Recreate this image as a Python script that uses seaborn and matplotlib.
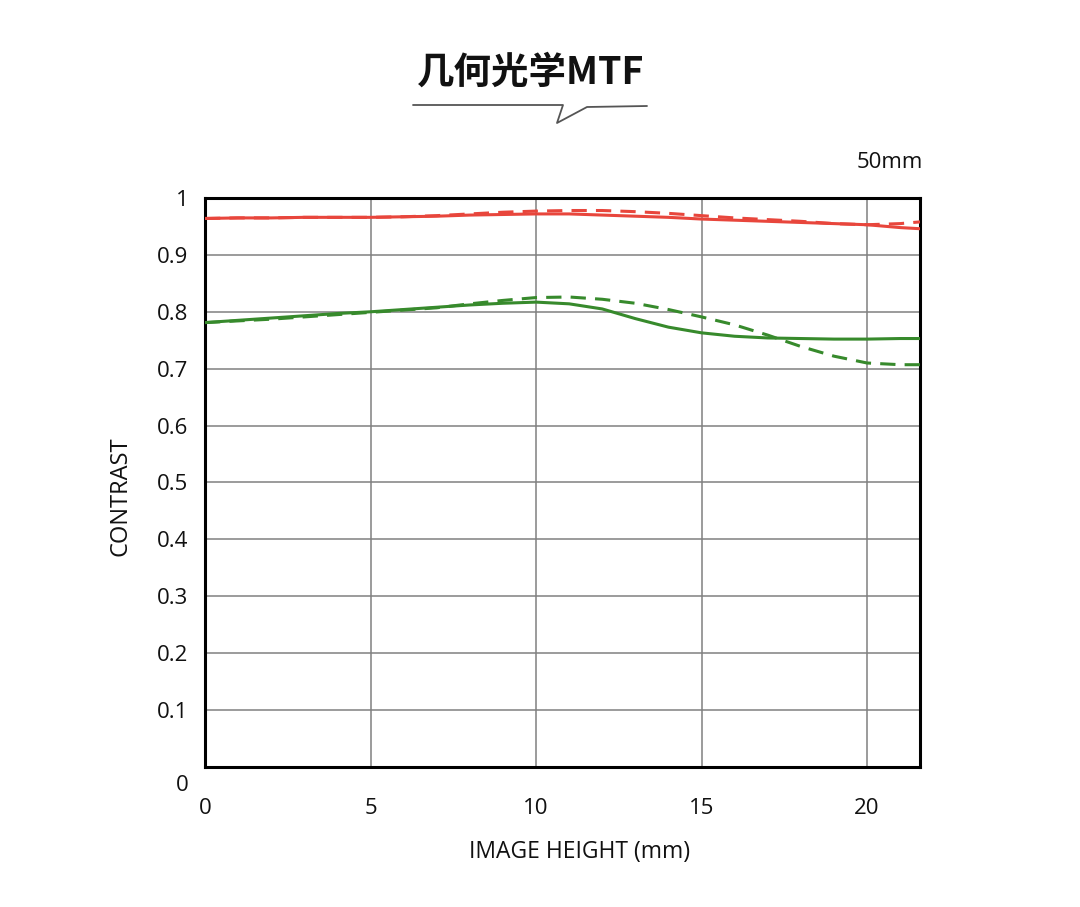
import matplotlib
matplotlib.use("Agg")
import matplotlib.pyplot as plt
from matplotlib.lines import Line2D
from matplotlib.transforms import ScaledTranslation
import pandas as pd
import seaborn as sns

heights = [0, 1, 2, 3, 4, 5, 6, 7, 8, 9, 10, 11, 12, 13, 14, 15, 16, 17, 18, 19, 20, 21, 21.6]

red_solid = [0.964, 0.965, 0.965, 0.966, 0.966, 0.966, 0.967, 0.968, 0.970, 0.971, 0.972, 0.972, 0.970,
             0.968, 0.966, 0.963, 0.961, 0.959, 0.957, 0.955, 0.953, 0.948, 0.946]
red_dashed = [0.964, 0.965, 0.965, 0.966, 0.966, 0.966, 0.967, 0.969, 0.972, 0.975, 0.977, 0.978, 0.978,
              0.976, 0.973, 0.969, 0.965, 0.962, 0.959, 0.955, 0.953, 0.955, 0.958]
green_solid = [0.781, 0.785, 0.789, 0.793, 0.797, 0.800, 0.804, 0.808, 0.812, 0.815, 0.817, 0.814, 0.805,
               0.788, 0.773, 0.763, 0.757, 0.754, 0.753, 0.752, 0.752, 0.753, 0.753]
green_dashed = [0.781, 0.784, 0.787, 0.791, 0.795, 0.799, 0.803, 0.807, 0.814, 0.820, 0.825, 0.826, 0.822,
                0.815, 0.804, 0.791, 0.777, 0.759, 0.739, 0.722, 0.710, 0.707, 0.707]

y_ticks = [0, 0.1, 0.2, 0.3, 0.4, 0.5, 0.6, 0.7, 0.8, 0.9, 1]
y_tick_labels = ["0", "0.1", "0.2", "0.3", "0.4", "0.5", "0.6", "0.7", "0.8", "0.9", "1"]
x_ticks = [0, 5, 10, 15, 20]

series = {
    "red_solid": red_solid,
    "red_dashed": red_dashed,
    "green_solid": green_solid,
    "green_dashed": green_dashed,
}
rows = []
for name, vals in series.items():
    for h, v in zip(heights, vals):
        rows.append({"height": h, "contrast": v, "series": name})
df = pd.DataFrame(rows)

sns.set_theme(style="white")
plt.rcParams["font.family"] = ["Open Sans", "Noto Sans CJK SC", "DejaVu Sans"]

fig = plt.figure(figsize=(10.8, 9.07), dpi=100)
ax = fig.add_axes([0.1898, 0.1544, 0.6621, 0.6273])

palette = {"red_solid": "#e8463c", "red_dashed": "#e8463c",
           "green_solid": "#378a2c", "green_dashed": "#378a2c"}
dashes = {"red_solid": "", "red_dashed": (5, 3),
          "green_solid": "", "green_dashed": (5, 3)}
sns.lineplot(data=df, x="height", y="contrast", hue="series", style="series",
             palette=palette, dashes=dashes, linewidth=2.2, legend=False, ax=ax,
             zorder=3)

ax.set_xlim(0, 21.6)
ax.set_ylim(0, 1)
ax.set_xticks(x_ticks)
ax.set_yticks(y_ticks)
ax.set_yticklabels(y_tick_labels)
ax.grid(True, color="#808080", linewidth=1.1)
for sp in ax.spines.values():
    sp.set_color("black")
    sp.set_linewidth(2.2)
ax.tick_params(axis="both", length=0, labelsize=16, colors="#111111")
ax.tick_params(axis="y", pad=12)
ax.tick_params(axis="x", pad=22)
ax.set_xlabel("")
ax.set_ylabel("")

# the "0" on the y axis sits lower than the axis line
zero_lab = ax.get_yticklabels()[0]
zero_lab.set_transform(zero_lab.get_transform() + ScaledTranslation(0, -16 / 100, fig.dpi_scale_trans))

fig.text(121 / 1080, 1 - 496 / 907, "CONTRAST", rotation=90, ha="center", va="center",
         fontsize=17, color="#111111")
fig.text(580 / 1080, 1 - 852 / 907, "IMAGE HEIGHT (mm)", ha="center", va="center",
         fontsize=16.5, color="#111111")
fig.text(923 / 1080, 1 - 162 / 907, "50mm", ha="right", va="center",
         fontsize=16, color="#111111")

# title with speech-bubble underline
fig.text(531 / 1080, 1 - 72 / 907, "几何光学MTF", ha="center", va="center",
         fontsize=27, fontweight="heavy", family=["Noto Sans CJK SC", "DejaVu Sans"],
         color="#111111")
bx = [413, 563, 557, 587, 647]
by = [105, 105, 123, 107, 106]
fig.add_artist(Line2D([x / 1080 for x in bx], [1 - y / 907 for y in by],
                      transform=fig.transFigure, color="#555555", linewidth=1.3))

fig.savefig("out.png", dpi=100, facecolor="white")
